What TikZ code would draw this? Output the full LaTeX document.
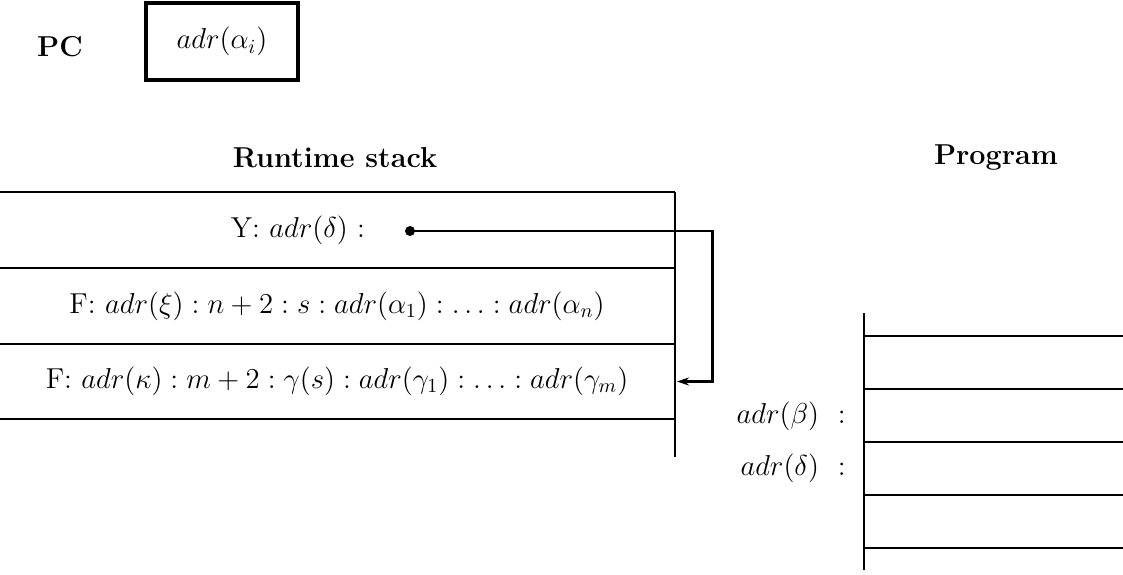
\documentclass[tikz,border=0pt]{standalone}
\usetikzlibrary{arrows.meta}
\begin{document}
\begin{tikzpicture}[x=0.5pt,y=-0.5pt,
  every node/.style={font=\fontsize{14.4}{17}\selectfont},
  rule/.style={line width=1.3pt},
  lbl/.style={inner sep=0pt, anchor=center},
  hdr/.style={inner sep=0pt, font=\fontsize{14.4}{17}\selectfont\bfseries},
  tip/.style={-{Stealth[length=6pt,width=4pt]}}]
\useasboundingbox (0,0) rectangle (1123,574);
% PC register
\node[hdr] (pc) at (60,47) {PC};
\node[draw, line width=1.7pt, minimum width=76pt, minimum height=38.5pt, inner sep=0pt] (pcbox) at (222,41.5) {$adr(\alpha_i)$};
% headings
\node[hdr] (rs) at (335,158) {Runtime stack};
\node[hdr] (pg) at (996,158) {Program};
% runtime stack
\draw[rule] (0,192) -- (675,192);
\draw[rule] (0,268) -- (675,268);
\draw[rule] (0,344) -- (675,344);
\draw[rule] (0,419) -- (675,419);
\draw[rule] (675,192) -- (675,457);
\node[lbl] (y) at (298,230) {Y:\ $adr(\delta)$ :};
\node[lbl] (f1) at (337,306) {F:\ $adr(\xi) : n+2 : s : adr(\alpha_1) : \ldots : adr(\alpha_n)$};
\node[lbl] (f2) at (337,381) {F:\ $adr(\kappa) : m+2 : \gamma(s) : adr(\gamma_1) : \ldots : adr(\gamma_m)$};
\coordinate (dot) at (410,231);
\coordinate (tgt) at (677,381.5);
\fill (dot) circle (5);
\draw[rule, tip] (dot) -- (712.5,231) |- (tgt);
% program
\draw[rule] (864,313) -- (864,570);
\foreach \yy in {336,389,442,495,548} \draw[rule] (864,\yy) -- (1123,\yy);
\node[lbl, anchor=east] (b) at (846,416) {$adr(\beta)$ \ :};
\node[lbl, anchor=east] (d) at (846,468) {$adr(\delta)$ \ :};
\end{tikzpicture}
\end{document}
